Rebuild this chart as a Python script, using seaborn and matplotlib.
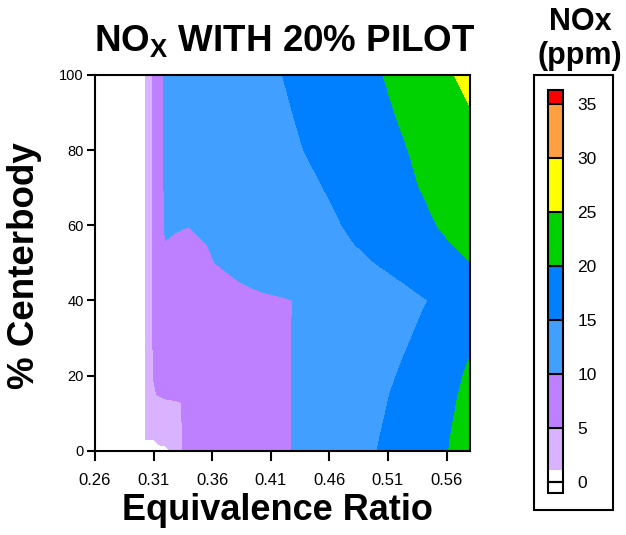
import numpy as np
import seaborn as sns
import matplotlib.pyplot as plt
from matplotlib.patches import Rectangle

# equivalence ratio columns and % centerbody rows of the NOx map (ppm)
phi = [0.303, 0.31, 0.32, 0.33, 0.34, 0.36, 0.38, 0.40, 0.42,
       0.44, 0.46, 0.48, 0.50, 0.52, 0.54, 0.56, 0.58]
centerbody = [0, 3, 13, 15, 20, 30, 40, 45, 50, 55, 60, 70, 80, 90, 100]

nan = np.nan
nox_cb0 = [nan, nan, -3, 4.6, 5.4, 7.4, 8.4, 9.1, 9.7, 10.5, 11.8, 13.2, 14.95, 16.4, 17.9, 19.8, 21.9]
nox_cb3 = [2, 2.8, 3.8, 4.6, 5.4, 7.4, 8.4, 9.1, 9.7, 10.5, 11.8, 13.2, 14.8, 16.3, 17.8, 19.7, 21.8]
nox_cb13 = [2, 3, 4.2, 4.7, 5.6, 7.6, 8.5, 9.2, 9.7, 10.5, 11.7, 13.0, 14.3, 15.7, 17.2, 19.1, 21.2]
nox_cb15 = [2, 4.6, 6.2, 6.9, 7.4, 8.0, 8.6, 9.2, 9.7, 10.5, 11.7, 12.9, 14.2, 15.6, 17.1, 19.0, 21.0]
nox_cb20 = [2, 5.1, 6.6, 7.1, 7.5, 8.1, 8.7, 9.2, 9.7, 10.5, 11.6, 12.7, 13.8, 15.2, 16.8, 18.6, 20.6]
nox_cb30 = [2, 5.3, 6.8, 7.3, 7.7, 8.3, 8.8, 9.2, 9.7, 10.5, 11.4, 12.3, 13.2, 14.4, 15.6, 17.4, 19.4]
nox_cb40 = [2, 5.4, 7.0, 7.5, 7.9, 8.5, 8.9, 9.3, 9.7, 10.4, 11.2, 12.0, 12.8, 13.7, 14.8, 15.7, 16.8]
nox_cb45 = [2, 5.4, 7.5, 8.0, 8.4, 9.0, 9.85, 10.7, 11.4, 12.0, 12.6, 13.2, 14.0, 14.9, 15.9, 17.0, 18.2]
nox_cb50 = [2, 5.4, 8.5, 9.0, 9.3, 9.9, 10.8, 11.6, 12.3, 13.0, 13.6, 14.2, 15.05, 16.3, 17.6, 18.8, 19.9]
nox_cb55 = [2, 5.4, 9.9, 9.6, 9.3, 10.2, 11.0, 11.8, 12.6, 13.3, 14.0, 14.9, 16.1, 17.2, 18.3, 19.7, 21.0]
nox_cb60 = [2, 5.4, 10.4, 10.2, 10.05, 10.3, 11.2, 12.0, 12.8, 13.5, 14.3, 15.6, 16.8, 17.9, 19.2, 20.6, 21.8]
nox_cb70 = [2, 5.4, 10.6, 10.9, 11.2, 11.7, 12.3, 12.9, 13.6, 14.2, 15.3, 16.5, 17.8, 19.0, 20.2, 21.6, 22.8]
nox_cb80 = [2, 5.4, 10.6, 11.0, 11.3, 11.8, 12.4, 13.2, 14.1, 15.1, 16.2, 17.3, 18.4, 19.5, 20.9, 22.3, 23.8]
nox_cb90 = [2, 5.4, 10.6, 11.0, 11.3, 11.9, 12.5, 13.3, 14.4, 15.8, 16.8, 17.8, 18.9, 20.3, 22.0, 23.6, 24.9]
nox_cb100 = [2, 5.4, 10.6, 11.0, 11.3, 11.9, 12.6, 13.6, 15.0, 16.0, 17.0, 18.1, 19.6, 21.0, 22.6, 24.7, 25.6]

levels = [0, 5, 10, 15, 20, 25, 30, 35, 40]
level_colors = ["#D9B3FF", "#BF80FF", "#409FFF", "#0080FF",
                "#00D100", "#FFFF00", "#FF9F40", "#FF0000"]

# colour key segments (value edges)
key_edges = [0, 1.15, 5, 10, 15, 20, 25, 30, 35, 36.3]
key_colors = ["white"] + level_colors
key_ticks = [0, 5, 10, 15, 20, 25, 30, 35]

x_ticks = [0.26, 0.31, 0.36, 0.41, 0.46, 0.51, 0.56]
y_ticks = [0, 20, 40, 60, 80, 100]

sns.set_theme(style="ticks")
plt.rcParams["font.family"] = ["Liberation Sans", "DejaVu Sans"]
plt.rcParams["mathtext.fontset"] = "custom"
plt.rcParams["mathtext.rm"] = "Liberation Sans"
plt.rcParams["mathtext.bf"] = "Liberation Sans:bold"
for key in ["text.color", "axes.labelcolor", "xtick.color", "ytick.color", "axes.edgecolor"]:
    plt.rcParams[key] = "black"

palette = sns.color_palette(level_colors)

grid = np.array([nox_cb0, nox_cb3, nox_cb13, nox_cb15, nox_cb20, nox_cb30, nox_cb40,
                 nox_cb45, nox_cb50, nox_cb55, nox_cb60, nox_cb70, nox_cb80,
                 nox_cb90, nox_cb100])

W, H = 626, 535
fig = plt.figure(figsize=(W / 100, H / 100), dpi=100)
fig.patch.set_facecolor("white")

ax = fig.add_axes([95 / W, 1 - 450.7 / H, (470 - 95) / W, (450.7 - 75) / H])
ax.set_facecolor("white")
ax.contourf(phi, centerbody, grid, levels=levels, colors=palette)
ax.set_xlim(0.26, 0.58)
ax.set_ylim(0, 100)
ax.set_xticks(x_ticks)
ax.set_xticklabels([f"{t:.2f}" for t in x_ticks], fontsize=12)
ax.set_yticks(y_ticks)
ax.set_yticklabels([str(t) for t in y_ticks], fontsize=10.5)
ax.tick_params(axis="x", direction="out", length=7, width=1.5, pad=9, color="black")
ax.tick_params(axis="y", direction="out", length=6, width=1.5, pad=2, color="black")
for sp in ax.spines.values():
    sp.set_linewidth(1.5)
    sp.set_color("black")
ax.set_xlabel("")
ax.set_ylabel("")

fig.text(285 / W, 1 - 51.7 / H, r"NO$_{\mathbf{X}}$ WITH 20% PILOT", fontsize=26.5,
         fontweight="bold", ha="center", va="baseline")
fig.text(277 / W, 1 - 520 / H, "Equivalence Ratio", fontsize=26,
         fontweight="bold", ha="center", va="baseline")
fig.text(25 / W, 1 - 266 / H, "% Centerbody", fontsize=26.5, fontweight="bold",
         rotation=90, ha="center", va="center")

# colour key
fig.text(580 / W, 1 - 30 / H, "NOx", fontsize=22, fontweight="bold",
         ha="center", va="baseline")
fig.text(580 / W, 1 - 64 / H, "(ppm)", fontsize=22, fontweight="bold",
         ha="center", va="baseline")
fig.add_artist(Rectangle((534.3 / W, 1 - 510 / H), (612.7 - 534.3) / W, (510 - 75) / H,
                         transform=fig.transFigure, fill=False, lw=1.5, ec="black"))

cax = fig.add_axes([548.3 / W, 1 - 493.3 / H, 15 / W, (493.3 - 90) / H])
bottoms = key_edges[:-1]
heights = np.diff(key_edges)
cax.bar(0, heights, bottom=bottoms, width=1, color=key_colors, edgecolor="none")
cax.bar(0, key_edges[-1] - key_edges[0], bottom=key_edges[0], width=1, fill=False,
        edgecolor="black", linewidth=1.5, clip_on=False)
cax.bar(0, -1.02, bottom=0, width=1, fill=False, edgecolor="black",
        linewidth=1.5, clip_on=False)
cax.hlines(key_edges[2:-1], -0.5, 0.5, color="black", linewidth=1.5, clip_on=False)
cax.set_xlim(-0.5, 0.5)
cax.set_ylim(-1.02, 36.3)
cax.set_xticks([])
cax.yaxis.tick_right()
cax.set_yticks(key_ticks)
cax.set_yticklabels([str(t) for t in key_ticks], fontsize=12.5)
cax.tick_params(axis="y", length=0, pad=10)
for sp in cax.spines.values():
    sp.set_visible(False)

fig.savefig("out.png", dpi=100, facecolor="white")
